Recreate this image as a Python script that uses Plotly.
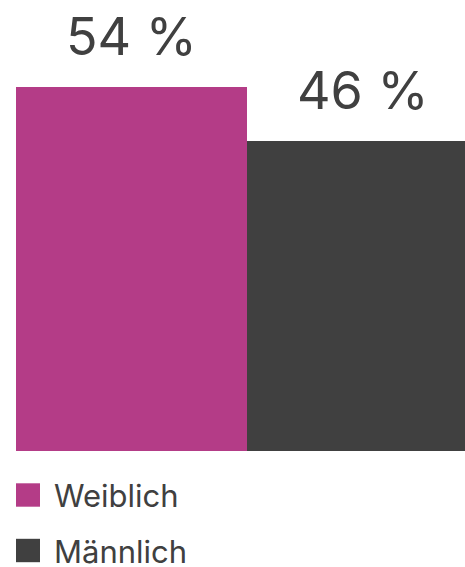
import plotly.graph_objects as go

categories = ["Weiblich", "Männlich"]
values = [54, 46]
labels = ["54 %", "46 %"]
colors = ["#B43C87", "#404040"]

W, H = 465, 567
ml, mt = 16, 0
bar_bottom = 451
plot_h = bar_bottom - mt
plot_w = W - ml
bar_px = 231
px_per_unit = 364 / 54

fig = go.Figure()
fig.add_trace(go.Bar(
    x=[0, 1], y=values, marker=dict(color=colors, line=dict(width=0)),
    showlegend=False, hoverinfo="skip", width=1,
))

for i, (v, t) in enumerate(zip(values, labels)):
    fig.add_annotation(x=i, y=v, text=t, showarrow=False, yanchor="bottom",
                       yshift=18, borderpad=0,
                       font=dict(family="Inter", size=52, color="#404040"))

def px_to_paper_x(px):
    return (px - ml) / plot_w

def px_to_paper_y(py):
    return (mt + plot_h - py) / plot_h

leg_rows = [495, 550.5]
for cat, col, cy in zip(categories, colors, leg_rows):
    fig.add_shape(type="rect", xref="paper", yref="paper",
                  x0=px_to_paper_x(16), x1=px_to_paper_x(40),
                  y0=px_to_paper_y(cy + 11.7), y1=px_to_paper_y(cy - 11.7),
                  fillcolor=col, line=dict(width=0))
    fig.add_annotation(xref="paper", yref="paper", x=px_to_paper_x(53), y=px_to_paper_y(cy),
                       xanchor="left", yanchor="middle", text=cat, showarrow=False,
                       borderpad=0, height=30, valign="middle",
                       font=dict(family="Inter", size=31, color="#404040"))

span = plot_w / bar_px
fig.update_layout(
    width=W, height=H,
    margin=dict(l=ml, r=0, t=mt, b=H - mt - plot_h, pad=0),
    paper_bgcolor="white", plot_bgcolor="white",
    bargap=0,
    xaxis=dict(range=[-0.5, -0.5 + span], visible=False, fixedrange=True),
    yaxis=dict(range=[0, plot_h / px_per_unit], visible=False, fixedrange=True),
)
fig.write_html(
    "out.html",
    config={"displayModeBar": False, "staticPlot": True},
    post_script="document.body.style.margin='0';document.body.style.overflow='hidden';",
)
